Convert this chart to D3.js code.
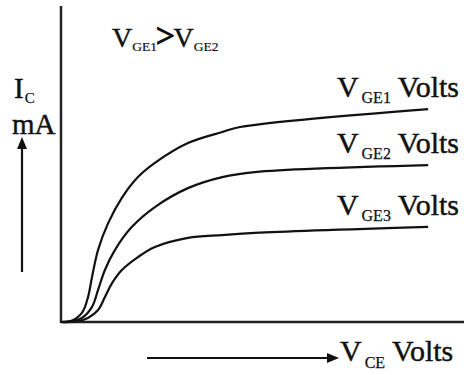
<!DOCTYPE html>
<head>
    <meta charset="utf-8">
    <script src="https://d3js.org/d3.v7.min.js"></script>
    <style>
        body {
            margin: 0;
            background-color: #fff;
        }

        svg text {
            font-family: "Liberation Serif", "Times New Roman", Times, "DejaVu Serif", serif;
            fill: #111;
            stroke: #111;
            stroke-width: 0.45px;
        }

        .axis-line {
            stroke: #222;
            stroke-width: 2.5px;
        }

        .curve {
            fill: none;
            stroke: #111;
            stroke-width: 2.2px;
        }

        .arrow {
            stroke: #111;
            stroke-width: 2.2px;
        }
    </style>
</head>

<body>
    <script>
        var width = 464,
            height = 375;

        // V_CE (volts) and I_C (mA)
        var series = ["GE1", "GE2", "GE3"];

        var vce1 = [0, 0.22, 0.52, 0.67, 0.77, 0.92, 1.17, 1.51, 1.91, 2.33, 3.15, 4.0, 4.44, 9.11];
        var ic1 = [0, 0.02, 0.29, 0.79, 1.43, 2.29, 3.14, 3.94, 4.6, 5.05, 5.68, 6.03, 6.19, 6.76];

        var vce2 = [0, 0.27, 0.52, 0.77, 0.92, 1.09, 1.34, 1.76, 2.33, 3.15, 4.0, 4.81, 9.11];
        var ic2 = [0, 0.03, 0.13, 0.48, 1.02, 1.65, 2.29, 3.02, 3.65, 4.25, 4.6, 4.76, 4.98];

        var vce3 = [0, 0.35, 0.67, 0.92, 1.09, 1.27, 1.51, 1.91, 2.33, 3.15, 4.0, 4.81, 9.11];
        var ic3 = [0, 0.01, 0.13, 0.38, 0.79, 1.24, 1.65, 2.06, 2.38, 2.67, 2.76, 2.83, 3.02];

        var curves = [
            d3.zip(vce1, ic1),
            d3.zip(vce2, ic2),
            d3.zip(vce3, ic3)
        ];

        var x = d3.scaleLinear()
            .domain([0, 10])
            .range([61, 464]);

        var y = d3.scaleLinear()
            .domain([0, 10])
            .range([322, 7]);

        var svg = d3.select("body").append("svg")
            .attr("width", width)
            .attr("height", height);

        var defs = svg.append("defs");
        defs.append("marker")
            .attr("id", "head")
            .attr("viewBox", "0 0 12 10")
            .attr("refX", 0)
            .attr("refY", 5)
            .attr("markerUnits", "userSpaceOnUse")
            .attr("markerWidth", 12)
            .attr("markerHeight", 10)
            .attr("orient", "auto")
            .append("path")
            .attr("d", "M0,0 L12,5 L0,10 Z")
            .attr("fill", "#111");

        // axes
        svg.append("line")
            .attr("class", "axis-line")
            .attr("x1", x(0)).attr("y1", 6)
            .attr("x2", x(0)).attr("y2", y(0) + 1);

        svg.append("line")
            .attr("class", "axis-line")
            .attr("x1", x(0)).attr("y1", y(0))
            .attr("x2", width).attr("y2", y(0));

        var line = d3.line()
            .x(function(d) { return x(d[0]); })
            .y(function(d) { return y(d[1]); })
            .curve(d3.curveCatmullRom.alpha(0.5));

        svg.selectAll(".curve")
            .data(curves)
            .enter().append("path")
            .attr("class", "curve")
            .attr("d", line);

        // labels at the right end of each curve
        var labels = svg.selectAll(".label")
            .data(curves)
            .enter().append("text")
            .attr("class", "label")
            .attr("x", 459)
            .attr("y", function(d) { return y(d[d.length - 1][1]) - 12; })
            .attr("text-anchor", "end")
            .style("font-size", "30px");

        labels.append("tspan").text("V");
        labels.append("tspan")
            .attr("dx", 3)
            .attr("dy", 6)
            .style("font-size", "16px")
            .style("stroke-width", "0.25px")
            .text(function(d, i) { return series[i]; });
        labels.append("tspan")
            .attr("dy", -6)
            .text(" Volts");

        // title
        var title = svg.append("text")
            .attr("x", 112)
            .attr("y", 47)
            .style("font-size", "28px");
        title.append("tspan").text("V");
        title.append("tspan").attr("dx", 0).attr("dy", 4)
            .style("font-size", "13.5px").style("stroke-width", "0.2px").text(series[0]);
        title.append("tspan").attr("dy", -4).attr("dx", -1)
            .style("font-size", "33px").style("stroke-width", "1.3px").text(">");
        title.append("tspan").attr("dx", -1).text("V");
        title.append("tspan").attr("dx", 0).attr("dy", 4)
            .style("font-size", "13.5px").style("stroke-width", "0.2px").text(series[1]);

        // y label
        var ylab = svg.append("text")
            .attr("x", 14)
            .attr("y", 98)
            .style("font-size", "29px");
        ylab.append("tspan").text("I");
        ylab.append("tspan").attr("dx", 1).attr("dy", 5)
            .style("font-size", "15px").style("stroke-width", "0.25px").text("C");

        svg.append("text")
            .attr("x", 12)
            .attr("y", 134)
            .style("font-size", "29px")
            .text("mA");

        svg.append("line")
            .attr("class", "arrow")
            .attr("x1", 22).attr("y1", 272)
            .attr("x2", 22).attr("y2", 149)
            .attr("marker-end", "url(#head)");

        // x label
        svg.append("line")
            .attr("class", "arrow")
            .attr("x1", 147).attr("y1", 358)
            .attr("x2", 327).attr("y2", 358)
            .attr("marker-end", "url(#head)");

        var xlab = svg.append("text")
            .attr("x", 340)
            .attr("y", 361)
            .style("font-size", "30px");
        xlab.append("tspan").text("V");
        xlab.append("tspan").attr("dx", 3).attr("dy", 7)
            .style("font-size", "16px").style("stroke-width", "0.25px").text("CE");
        xlab.append("tspan").attr("dy", -7).text(" Volts");
    </script>
</body>
